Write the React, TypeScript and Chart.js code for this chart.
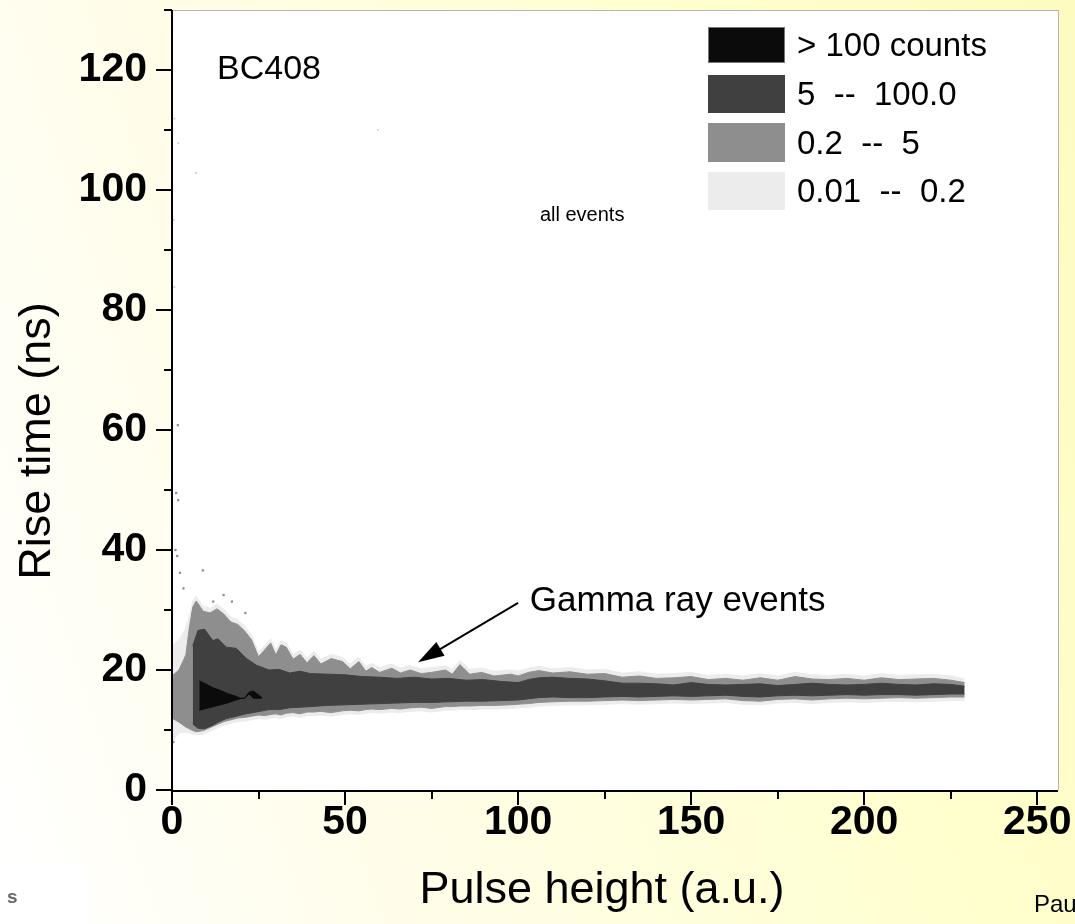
import React, { useEffect, useRef } from "react";
import { Chart, registerables } from "chart.js";

Chart.register(...registerables);

// ---------- axes ----------
const X_MIN = 0;
const X_MAX = 256;
const Y_MIN = 0;
const Y_MAX = 130;
const xTickValues = [0, 50, 100, 150, 200, 250];
const xMinorTicks = [25, 75, 125, 175, 225];
const yTickValues = [0, 20, 40, 60, 80, 100, 120];
const yMinorTicks = [10, 30, 50, 70, 90, 110, 130];

// ---------- contour levels (counts) ----------
const levelLabels = ["> 100 counts", "5  --  100.0", "0.2  --  5", "0.01  --  0.2"];
const levelColors = ["#0b0b0b", "#404040", "#8e8e8e", "#ececec"];

// > 100 counts
const blackX = [7.9, 10, 12, 14, 16, 18, 19.7, 21, 22.3, 23.5, 26];
const blackUpper = [18.2, 17.6, 17.0, 16.6, 16.1, 15.7, 15.3, 15.3, 16.3, 16.5, 15.4];
const blackLower = [13.3, 13.6, 13.9, 14.2, 14.5, 14.9, 15.2, 15.3, 16.0, 15.3, 15.3];

// 5 -- 100
const darkX = [6, 7.5, 9.4, 11.8, 13.3, 15.7, 18.6, 21.5, 24.4, 28, 31, 34, 37, 40, 45, 50, 55, 60, 65, 70, 75, 80, 85, 90, 95, 100, 103, 106, 110, 115, 120, 125, 130, 135, 140, 145, 150, 155, 160, 165, 170, 175, 180, 185, 190, 195, 200, 205, 210, 215, 220, 225, 229];
const darkUpper = [24, 26.6, 26.8, 24.9, 25.2, 23.8, 23.6, 21.9, 20.8, 20.0, 20.1, 19.5, 19.8, 19.4, 19.3, 19.2, 18.9, 18.8, 18.6, 18.8, 18.5, 18.6, 18.3, 18.4, 18.1, 17.9, 18.4, 18.7, 18.8, 18.6, 18.5, 18.2, 17.8, 17.8, 17.7, 17.5, 17.9, 17.6, 17.5, 17.6, 17.7, 17.4, 17.6, 17.8, 17.6, 17.5, 17.6, 17.8, 17.6, 17.5, 17.7, 17.6, 17.3];
const darkLower = [11, 10.3, 10.2, 10.8, 11.3, 11.9, 12.3, 12.7, 13.0, 13.4, 13.4, 13.7, 13.8, 13.9, 14.1, 14.2, 14.3, 14.4, 14.5, 14.6, 14.6, 14.7, 14.8, 14.8, 14.9, 15.0, 15.2, 15.4, 15.5, 15.4, 15.4, 15.5, 15.6, 15.5, 15.6, 15.7, 15.6, 15.7, 15.8, 15.6, 15.5, 15.7, 15.8, 15.7, 15.8, 15.9, 15.8, 15.9, 15.9, 15.8, 15.9, 16.0, 16.0];

// 0.2 -- 5  and  0.01 -- 0.2 (same grid)
const midX = [0, 2, 4, 5, 6, 7, 9, 11, 13, 15, 17, 19, 21, 23,
  25, 27, 28.5, 30, 31.5, 33, 35, 37, 39, 41, 43, 46, 49.3,
  51.5, 54, 56, 57.7, 60, 63.5, 66, 68.8, 72, 75, 79, 81, 83.2, 86, 89.5, 93, 98, 100,
  103, 106, 110, 115, 120, 125, 130, 135, 140, 145, 150, 155, 160, 165, 170, 175, 180, 185, 190, 195, 200, 205, 210, 215, 220, 225, 229];
const midUpper = [19, 20, 22.5, 27, 30.5, 31.5, 29.8, 29.5, 30.2, 29.3, 28, 27.6, 26.5, 25,
  22.2, 23.5, 24.5, 22.5, 24.2, 23.8, 21.8, 22.6, 21.2, 22.4, 21, 21.9, 21.4,
  20.2, 21.4, 19.8, 20.4, 19.6, 20.3, 19.5, 20, 19.4, 19.6, 20, 19.3, 20.9, 19.3, 19.6, 19, 19.3, 19.0,
  19.6, 19.9, 19.5, 19.7, 19.3, 19.4, 18.8, 19.0, 18.6, 18.7, 18.9, 18.4, 18.6, 18.3, 18.7, 18.3, 18.9, 18.5, 18.4, 18.6, 18.3, 18.7, 18.4, 18.5, 18.6, 18.3, 17.9];
const midLower = [12, 11.3, 10.5, 10.2, 9.9, 9.7, 9.9, 10.4, 10.9, 11.4, 11.7, 12, 12.1, 12.3,
  12.5, 12.4, 12.6, 12.7, 12.5, 12.8, 12.9, 12.7, 13.0, 13.0, 13.1, 12.9, 13.2,
  13.3, 13.2, 13.4, 13.5, 13.4, 13.6, 13.5, 13.7, 13.8, 13.6, 13.9, 13.9, 14.0, 14.0, 14.1, 14.1, 14.2, 14.3,
  14.4, 14.6, 14.7, 14.8, 14.8, 14.9, 15.0, 14.9, 15.0, 15.1, 15.0, 15.1, 15.2, 14.9, 14.8, 15.1, 15.2, 15.0, 15.2, 15.3, 15.2, 15.3, 15.4, 15.3, 15.4, 15.5, 15.5];
const lightUpper = [24, 25, 27, 29, 31.5, 32.3, 30.6, 30.3, 31, 30.1, 28.8, 28.4, 27.3, 25.8,
  23, 24.2, 25.2, 23.3, 24.9, 24.5, 22.6, 23.3, 22, 23.1, 21.8, 22.6, 22.1,
  21, 22.1, 20.6, 21.1, 20.4, 21, 20.3, 20.7, 20.2, 20.4, 20.7, 20.1, 21.6, 20.1, 20.3, 19.8, 20.0, 19.8,
  20.3, 20.6, 20.2, 20.4, 20.0, 20.1, 19.5, 19.7, 19.3, 19.4, 19.6, 19.1, 19.3, 19.0, 19.4, 19.0, 19.6, 19.2, 19.1, 19.3, 19.0, 19.4, 19.1, 19.2, 19.3, 19.0, 18.5];
const lightLower = [8, 9.5, 9.6, 9.5, 9.3, 9.2, 9.3, 9.8, 10.3, 10.8, 11.1, 11.4, 11.5, 11.7,
  11.9, 11.8, 12.0, 12.1, 11.9, 12.2, 12.3, 12.1, 12.4, 12.4, 12.5, 12.3, 12.6,
  12.7, 12.6, 12.8, 12.9, 12.8, 13.0, 12.9, 13.1, 13.2, 13.0, 13.3, 13.3, 13.4, 13.4, 13.5, 13.5, 13.6, 13.7,
  13.8, 14.0, 14.1, 14.2, 14.2, 14.3, 14.4, 14.3, 14.4, 14.5, 14.4, 14.5, 14.6, 14.3, 14.2, 14.5, 14.6, 14.4, 14.6, 14.7, 14.6, 14.7, 14.8, 14.7, 14.8, 14.9, 14.9];

// isolated cells (0.2 -- 5)
const speckX = [1.7, 1.2, 1.8, 1.0, 1.5, 2.3, 8.9, 14.9, 17.3, 18.7, 21.2, 11.9, 3.3, 2.9, 3.4, 0.4, 0.4];
const speckY = [60.8, 49.5, 48.3, 40.0, 39.0, 36.2, 36.6, 32.5, 31.4, 28.3, 29.5, 31.4, 33.6, 24.7, 21.7, 8.0, 10.0];
// isolated cells (0.01 -- 0.2)
const faintX = [0.7, 1.8, 6.9, 59.5, 0.7, 0.5];
const faintY = [111.9, 107.8, 102.8, 110.0, 83.8, 95.0];

// ---------- annotations ----------
const sampleName = "BC408";
const subTitle = "all events";
const arrowLabel = "Gamma ray events";
const arrowFrom = { x: 100, y: 31.2 };
const arrowTo = { x: 71.1, y: 21.3 };
const xTitle = "Pulse height (a.u.)";
const yTitle = "Rise time (ns)";

const FONT = "'Liberation Sans', Arial, sans-serif";

const pts = (xs: number[], ys: number[]) => xs.map((x, i) => ({ x, y: ys[i] }));

const band = (label: string, color: string, xs: number[], lo: number[], hi: number[]) => [
  {
    label: label + " (lower)",
    data: pts(xs, lo),
    borderColor: color,
    borderWidth: 1,
    backgroundColor: color,
    pointRadius: 0,
    fill: false,
    tension: 0,
  },
  {
    label,
    data: pts(xs, hi),
    borderColor: color,
    borderWidth: 1,
    backgroundColor: color,
    pointRadius: 0,
    fill: "-1",
    tension: 0,
  },
];

const decorPlugin = {
  id: "decor",
  beforeDraw(chart: any) {
    const { ctx, chartArea: a } = chart;
    ctx.save();
    ctx.fillStyle = "#ffffff";
    ctx.fillRect(a.left, a.top, a.right - a.left, a.bottom - a.top);
    ctx.restore();
  },
  afterDraw(chart: any) {
    const { ctx, chartArea: a } = chart;
    const xs = chart.scales.x;
    const ys = chart.scales.y;
    ctx.save();

    // frame
    ctx.strokeStyle = "#b4b4b4";
    ctx.lineWidth = 1;
    ctx.beginPath();
    ctx.moveTo(a.left, a.top + 0.5);
    ctx.lineTo(a.right + 0.5, a.top + 0.5);
    ctx.lineTo(a.right + 0.5, a.bottom);
    ctx.stroke();

    ctx.strokeStyle = "#000";
    ctx.lineWidth = 2;
    ctx.beginPath();
    ctx.moveTo(a.left, a.top);
    ctx.lineTo(a.left, a.bottom + 1);
    ctx.lineTo(a.right, a.bottom + 1);
    ctx.stroke();

    // ticks
    ctx.lineWidth = 2;
    ctx.beginPath();
    yTickValues.forEach((v) => {
      const p = Math.round(ys.getPixelForValue(v));
      ctx.moveTo(a.left - 16, p);
      ctx.lineTo(a.left, p);
    });
    yMinorTicks.forEach((v) => {
      const p = Math.round(ys.getPixelForValue(v));
      ctx.moveTo(a.left - 8, p);
      ctx.lineTo(a.left, p);
    });
    xTickValues.forEach((v) => {
      const p = Math.round(xs.getPixelForValue(v));
      ctx.moveTo(p, a.bottom);
      ctx.lineTo(p, a.bottom + 15);
    });
    xMinorTicks.forEach((v) => {
      const p = Math.round(xs.getPixelForValue(v));
      ctx.moveTo(p, a.bottom);
      ctx.lineTo(p, a.bottom + 9);
    });
    ctx.stroke();

    // in-plot texts
    ctx.fillStyle = "#000";
    ctx.textBaseline = "middle";
    ctx.textAlign = "left";
    ctx.font = `34px ${FONT}`;
    ctx.fillText(sampleName, xs.getPixelForValue(13), ys.getPixelForValue(120));
    ctx.font = `35px ${FONT}`;
    ctx.fillText(arrowLabel, xs.getPixelForValue(103.4), ys.getPixelForValue(31.4));
    ctx.font = `20px ${FONT}`;
    ctx.fillText(subTitle, xs.getPixelForValue(106.3), ys.getPixelForValue(95.8));

    // arrow
    const x1 = xs.getPixelForValue(arrowFrom.x);
    const y1 = ys.getPixelForValue(arrowFrom.y);
    const x2 = xs.getPixelForValue(arrowTo.x);
    const y2 = ys.getPixelForValue(arrowTo.y);
    const ang = Math.atan2(y2 - y1, x2 - x1);
    const headLen = 26;
    const headW = 8;
    ctx.lineWidth = 2;
    ctx.beginPath();
    ctx.moveTo(x1, y1);
    ctx.lineTo(x2 - Math.cos(ang) * headLen * 0.8, y2 - Math.sin(ang) * headLen * 0.8);
    ctx.stroke();
    ctx.beginPath();
    ctx.moveTo(x2, y2);
    ctx.lineTo(
      x2 - Math.cos(ang) * headLen - Math.sin(ang) * headW,
      y2 - Math.sin(ang) * headLen + Math.cos(ang) * headW
    );
    ctx.lineTo(
      x2 - Math.cos(ang) * headLen + Math.sin(ang) * headW,
      y2 - Math.sin(ang) * headLen - Math.cos(ang) * headW
    );
    ctx.closePath();
    ctx.fill();

    // legend
    const lx = 708;
    const boxTops = [27, 75, 123, 172];
    const boxH = [36, 38, 39, 38];
    ctx.font = `33px ${FONT}`;
    levelLabels.forEach((lab, i) => {
      ctx.fillStyle = levelColors[i];
      ctx.fillRect(lx, boxTops[i], 77, boxH[i]);
      if (i === 0) {
        ctx.strokeStyle = "#777";
        ctx.lineWidth = 1;
        ctx.strokeRect(lx + 0.5, boxTops[i] + 0.5, 76, boxH[i] - 1);
      }
      ctx.fillStyle = "#000";
      ctx.fillText(lab, lx + 89, boxTops[i] + boxH[i] / 2 + 2);
    });

    // axis titles
    ctx.font = `45px ${FONT}`;
    ctx.textAlign = "center";
    ctx.fillText(xTitle, 602, 891);
    ctx.save();
    ctx.translate(38, 441);
    ctx.rotate(-Math.PI / 2);
    ctx.fillText(yTitle, 0, 0);
    ctx.restore();

    // slide footer fragments
    ctx.fillStyle = "#ffffff";
    ctx.fillRect(0, 865, 87, 59);
    ctx.textAlign = "left";
    ctx.fillStyle = "#6a6a6a";
    ctx.font = `bold 19px ${FONT}`;
    ctx.fillText("s", 7, 898);
    ctx.fillStyle = "#000";
    ctx.font = `24px ${FONT}`;
    ctx.fillText("Paul", 1034, 905);

    ctx.restore();
  },
};

export default function App() {
  const ref = useRef<HTMLCanvasElement | null>(null);

  useEffect(() => {
    if (!ref.current) return;
    const chart = new Chart(ref.current, {
      type: "line",
      data: {
        datasets: [
          ...band(levelLabels[0], levelColors[0], blackX, blackLower, blackUpper),
          ...band(levelLabels[1], levelColors[1], darkX, darkLower, darkUpper),
          ...band(levelLabels[2], levelColors[2], midX, midLower, midUpper),
          ...band(levelLabels[3], levelColors[3], midX, lightLower, lightUpper),
          {
            label: "isolated cells",
            data: pts(speckX, speckY),
            showLine: false,
            pointStyle: "rect",
            pointRadius: 1.6,
            pointBorderWidth: 0,
            pointBackgroundColor: levelColors[2],
            borderColor: levelColors[2],
            fill: false,
          } as any,
          {
            label: "faint cells",
            data: pts(faintX, faintY),
            showLine: false,
            pointStyle: "rect",
            pointRadius: 1.2,
            pointBorderWidth: 0,
            pointBackgroundColor: "#c8c8c8",
            borderColor: "#c8c8c8",
            fill: false,
          } as any,
        ],
      },
      options: {
        responsive: false,
        animation: false,
        events: [],
        layout: { autoPadding: false, padding: { left: 0, top: 10, right: 17, bottom: 0 } },
        plugins: {
          legend: { display: false },
          tooltip: { enabled: false },
          filler: { propagate: false },
        },
        scales: {
          x: {
            type: "linear",
            min: X_MIN,
            max: X_MAX,
            afterBuildTicks: (s: any) => {
              s.ticks = xTickValues.map((value) => ({ value }));
            },
            afterFit: (s: any) => {
              s.height = 134;
              s.paddingLeft = 0;
              s.paddingRight = 0;
            },
            grid: { display: false },
            border: { display: false },
            ticks: {
              autoSkip: false,
              maxRotation: 0,
              padding: 0,
              color: "#000",
              font: { family: FONT, size: 41, weight: "bold" },
              callback: (v: any) => String(v),
            },
          },
          y: {
            type: "linear",
            min: Y_MIN,
            max: Y_MAX,
            afterBuildTicks: (s: any) => {
              s.ticks = yTickValues.map((value) => ({ value }));
            },
            afterFit: (s: any) => {
              s.width = 172;
              s.paddingTop = 0;
              s.paddingBottom = 0;
            },
            grid: { display: false },
            border: { display: false },
            ticks: {
              autoSkip: false,
              padding: 17,
              color: "#000",
              font: { family: FONT, size: 41, weight: "bold" },
              callback: (v: any) => String(v),
            },
          },
        },
      },
      plugins: [decorPlugin],
    } as any);
    return () => chart.destroy();
  }, []);

  return (
    <div
      style={{
        position: "absolute",
        left: 0,
        top: 0,
        width: 1075,
        height: 924,
        overflow: "hidden",
        background: "linear-gradient(72deg, #ffffff 0%, #fffde9 30%, #ffffcf 70%, #fdfbc0 100%)",
      }}
    >
      <canvas ref={ref} width={1075} height={924} style={{ display: "block" }} />
    </div>
  );
}
